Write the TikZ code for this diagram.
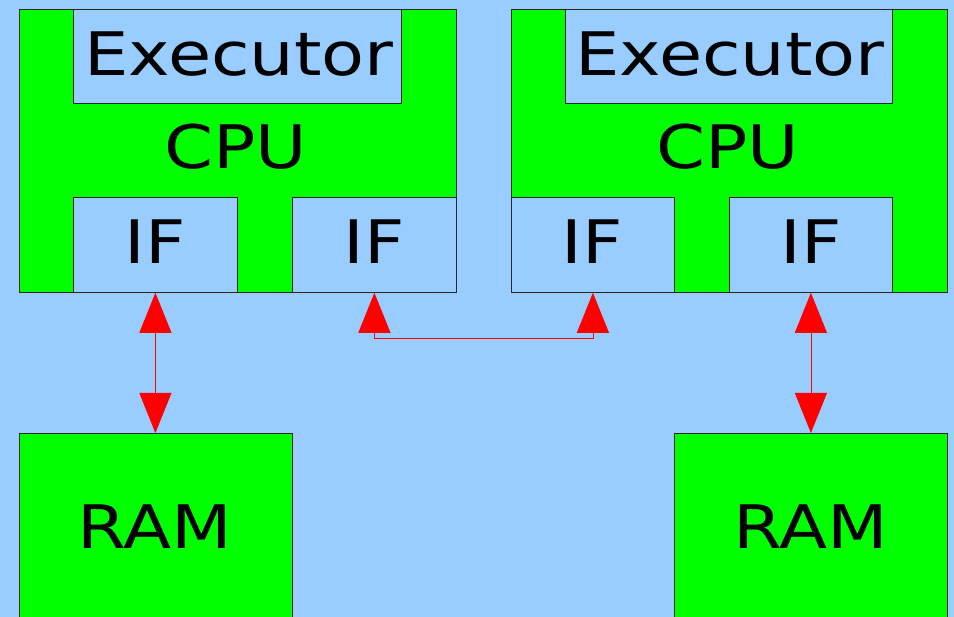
\documentclass[tikz,border=0pt]{standalone}
\usepackage{fontspec}
\setmainfont[FakeStretch=1.17]{DejaVu Sans}
\usetikzlibrary{arrows.meta}
\definecolor{skyblue}{HTML}{99CCFF}
\definecolor{boxgreen}{HTML}{00FF00}
\tikzset{
    box/.style={draw=black!85,line width=0.8pt,inner sep=0pt,anchor=north west},
    greenbox/.style={box,fill=boxgreen},
    bluebox/.style={box,fill=skyblue},
    big/.style={font=\fontsize{60}{66}\selectfont,inner sep=0pt},
    link/.style={red,line width=0.8pt,{Triangle[length=40pt,width=32pt]}-{Triangle[length=40pt,width=32pt]}}
}
\begin{document}
\begin{tikzpicture}[x=1pt,y=-1pt]
    \fill[skyblue] (0,0) rectangle (954,617);
    \useasboundingbox (0,0) rectangle (954,617);
    % left machine
    \node[greenbox,minimum width=437pt,minimum height=283pt] (cpuA) at (19,9) {};
    \node[bluebox,minimum width=328pt,minimum height=94pt] (execA) at (73,9) {};
    \node[big] at (239,54) {Executor};
    \node[big] (labelA) at (236,147) {CPU};
    \node[bluebox,minimum width=164pt,minimum height=95pt] (ifA1) at (73,197) {};
    \node[big] at (155,242) {IF};
    \node[bluebox,minimum width=164pt,minimum height=95pt] (ifA2) at (292,197) {};
    \node[big] at (374,242) {IF};
    \node[greenbox,minimum width=273pt,minimum height=200pt] (ramA) at (19,433) {};
    \node[big] at (155,527) {RAM};
    % right machine
    \node[greenbox,minimum width=436pt,minimum height=283pt] (cpuB) at (511,9) {};
    \node[bluebox,minimum width=327pt,minimum height=94pt] (execB) at (565,9) {};
    \node[big] at (730,54) {Executor};
    \node[big] (labelB) at (728,147) {CPU};
    \node[bluebox,minimum width=163pt,minimum height=95pt] (ifB1) at (511,197) {};
    \node[big] at (592,242) {IF};
    \node[bluebox,minimum width=163pt,minimum height=95pt] (ifB2) at (729,197) {};
    \node[big] at (811,242) {IF};
    \node[greenbox,minimum width=273pt,minimum height=200pt] (ramB) at (674,433) {};
    \node[big] at (811,527) {RAM};
    % connections
    \draw[link] (ifA1.south) -- (ifA1.south |- ramA.north);
    \draw[link] (ifA2.south) -- ++(0,46) -| (ifB1.south);
    \draw[link] (ifB2.south) -- (ifB2.south |- ramB.north);
\end{tikzpicture}
\end{document}
